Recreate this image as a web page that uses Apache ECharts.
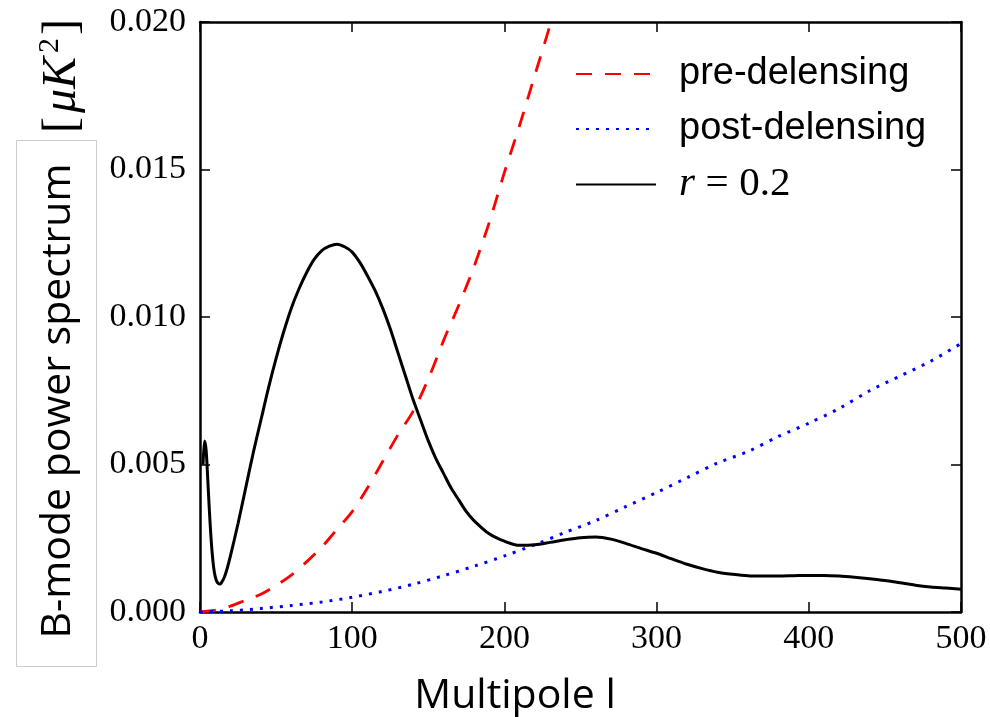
<!DOCTYPE html>
<html>
<head>
<meta charset="utf-8">
<script src="https://cdn.jsdelivr.net/npm/echarts@6/dist/echarts.min.js"></script>
<style>
html,body{margin:0;padding:0;background:#fff;}
#c{width:990px;height:717px;}
</style>
</head>
<body>
<div id="c"></div>
<script>
// ---- data ----
const xTicks = [0, 100, 200, 300, 400, 500];
const yTicks = [0, 0.005, 0.010, 0.015, 0.020];

const preL = [0,10,20,30,40,50,60,70,80,90,100,110,120,130,140,150,160,170,180,190,200,210,220,230,240];
const preV = [0,0.00006,0.0002,0.0004,0.0006,0.0009,0.00125,0.0017,0.0022,0.0028,0.0034,0.0042,0.0051,0.006,0.0068,0.0079,0.0092,0.0104,0.0117,0.0132,0.0149,0.0165,0.0182,0.0199,0.0218];

const postL = [0,20,40,60,80,100,120,140,160,180,200,220,240,260,280,300,320,340,360,380,400,420,440,460,480,500];
const postV = [0,0.00004,0.00012,0.00022,0.00034,0.0005,0.0007,0.00094,0.00123,0.00155,0.0019,0.00228,0.0027,0.0031,0.00358,0.00405,0.00455,0.00505,0.00544,0.00595,0.0064,0.0069,0.0075,0.0080,0.0085,0.0091];

const tensL = [2,3,4,5,6,7,8,9,10,11,12,13,14,16,18,20,25,30,35,40,45,50,55,60,65,70,75,80,85,90,95,100,105,110,115,120,125,130,135,140,145,150,155,160,165,170,175,180,190,200,210,220,230,240,250,260,270,280,290,300,310,320,330,340,350,360,370,380,390,400,410,420,430,440,450,460,470,480,490,500];
const tensV = [0.0050,0.0058,0.0055,0.0046,0.0036,0.0027,0.0020,0.0015,0.0012,0.00104,0.00097,0.00095,0.00099,0.00118,0.0015,0.0019,0.0030,0.0042,0.0054,0.0065,0.0076,0.0086,0.0095,0.0103,0.01095,0.0115,0.01195,0.01225,0.0124,0.01247,0.01238,0.0122,0.01185,0.0114,0.0109,0.0103,0.0096,0.0088,0.0080,0.0072,0.0065,0.0058,0.0052,0.0047,0.0042,0.0038,0.0034,0.0031,0.00265,0.0024,0.00226,0.00228,0.00236,0.00245,0.00252,0.00254,0.00247,0.00232,0.00215,0.00199,0.0018,0.00162,0.00147,0.00135,0.00128,0.00123,0.00122,0.00122,0.00123,0.00124,0.00124,0.00122,0.00118,0.00113,0.00107,0.00099,0.00091,0.00085,0.00081,0.00077];

const seriesNames = ['pre-delensing', 'post-delensing', 'r = 0.2'];
const xLabel = 'Multipole l';
const yLabel = 'B-mode power spectrum';

// ---- chart ----
const zip = (a, b) => a.map((v, i) => [v, b[i]]);
const serif = '"Liberation Serif", "DejaVu Serif", serif';
const sans = '"Liberation Sans", Arial, sans-serif';
const label = '"Open Sans", Lato, sans-serif';

const chart = echarts.init(document.getElementById('c'), null, {renderer: 'canvas'});
const axisLine = {show: true, onZero: false, lineStyle: {color: '#000', width: 2.5}};
const tick = {show: true, inside: true, length: 10, lineStyle: {color: '#000', width: 1.5}};

chart.setOption({
  backgroundColor: '#fff',
  animation: false,
  grid: {left: 200, top: 22, right: 29, bottom: 105, containLabel: false},
  xAxis: [
    {type: 'value', min: xTicks[0], max: xTicks[xTicks.length-1], interval: 100,
     axisLine, axisTick: tick, splitLine: {show: false},
     axisLabel: {color: '#000', fontFamily: serif, fontSize: 34, margin: 10}},
    {type: 'value', position: 'top', min: xTicks[0], max: xTicks[xTicks.length-1], interval: 100,
     axisLine, axisTick: tick, splitLine: {show: false}, axisLabel: {show: false}}
  ],
  yAxis: [
    {type: 'value', min: yTicks[0], max: yTicks[yTicks.length-1], interval: 0.005,
     axisLine, axisTick: tick, splitLine: {show: false},
     axisLabel: {color: '#000', fontFamily: serif, fontSize: 34, margin: 14,
       formatter: v => v.toFixed(3)}},
    {type: 'value', position: 'right', min: yTicks[0], max: yTicks[yTicks.length-1], interval: 0.005,
     axisLine, axisTick: tick, splitLine: {show: false}, axisLabel: {show: false}}
  ],
  legend: {
    orient: 'vertical', left: 570, top: 49,
    itemWidth: 80, itemHeight: 20, itemGap: 15,
    itemStyle: {opacity: 0},
    data: seriesNames,
    formatter: n => n === seriesNames[2] ? '{i|r} {s|=} {s|0.2}' : n,
    textStyle: {
      color: '#000', fontFamily: sans, fontSize: 38, lineHeight: 40,
      padding: [0, 0, 0, 18],
      rich: {
        i: {fontFamily: serif, fontStyle: 'italic', fontSize: 41, color: '#000'},
        s: {fontFamily: serif, fontSize: 41, color: '#000'}
      }
    }
  },
  series: [
    {name: seriesNames[0], type: 'line', data: zip(preL, preV), symbol: 'none', smooth: 0.3, clip: true,
     lineStyle: {color: '#ff0000', width: 2.8, type: [16, 13]}, itemStyle: {color: '#ff0000'}},
    {name: seriesNames[1], type: 'line', data: zip(postL, postV), symbol: 'none', smooth: 0.3, clip: true,
     lineStyle: {color: '#0000ff', width: 3, type: [3, 7]}, itemStyle: {color: '#0000ff'}},
    {name: seriesNames[2], type: 'line', data: zip(tensL, tensV), symbol: 'none', smooth: 0.3, clip: true,
     lineStyle: {color: '#000', width: 3}, itemStyle: {color: '#000'}}
  ],
  graphic: [
    {type: 'rect', left: 14, top: 138, shape: {width: 80, height: 526},
     style: {fill: 'none', stroke: '#cccccc', lineWidth: 1}},
    {type: 'text', x: 58, y: 401, rotation: Math.PI / 2,
     style: {text: yLabel, fontFamily: label, fontSize: 41, fill: '#000',
       align: 'center', verticalAlign: 'middle'}},
    {type: 'text', x: 62, y: 76, rotation: Math.PI / 2,
     style: {text: '{b|[}{m|μK}{sup|2}{b|]}', align: 'center', verticalAlign: 'middle',
       rich: {
         b: {fontFamily: serif, fontSize: 48, fill: '#000'},
         m: {fontFamily: serif, fontStyle: 'italic', fontSize: 48, fill: '#000', padding: [0, 4, 0, 4]},
         sup: {fontFamily: serif, fontSize: 30, fill: '#000', padding: [0, 3, 24, 0]}
       }}},
    {type: 'text', x: 515, y: 696,
     style: {text: xLabel, fontFamily: label, fontSize: 41, fill: '#000',
       align: 'center', verticalAlign: 'middle'}}
  ]
});
</script>
</body>
</html>
